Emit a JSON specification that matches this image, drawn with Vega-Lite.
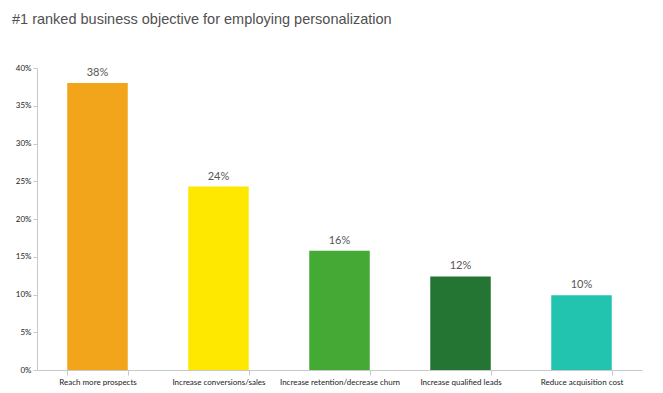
{
  "$schema": "https://vega.github.io/schema/vega-lite/v6.json",
  "autosize": {"type": "none"},
  "width": 605,
  "height": 302,
  "padding": {"left": 37, "top": 68, "right": 21, "bottom": 23},
  "background": "white",
  "title": {
    "text": "#1 ranked business objective for employing personalization",
    "anchor": "start",
    "frame": "group",
    "dx": -25,
    "offset": 37,
    "font": "Liberation Sans",
    "fontSize": 14.5,
    "fontWeight": "normal",
    "color": "#505050"
  },
  "data": {
    "values": [
      {"category": "Reach more prospects", "value": 0.38, "label": "38%"},
      {"category": "Increase conversions/sales", "value": 0.243, "label": "24%"},
      {"category": "Increase retention/decrease churn", "value": 0.158, "label": "16%"},
      {"category": "Increase qualified leads", "value": 0.124, "label": "12%"},
      {"category": "Reduce acquisition cost", "value": 0.099, "label": "10%"}
    ]
  },
  "config": {
    "view": {"stroke": null},
    "axis": {"grid": false, "domainColor": "#c8c8c8", "tickColor": "#c8c8c8", "labelFont": "Lato", "labelColor": "#222222"}
  },
  "encoding": {
    "x": {
      "field": "category", "type": "nominal", "sort": null,
      "scale": {"paddingInner": 0.5, "paddingOuter": 0.25},
      "axis": {"title": null, "labelAngle": 0, "labelFontSize": 8, "tickBand": "extent", "tickSize": 5, "labelPadding": 3}
    },
    "y": {
      "field": "value", "type": "quantitative",
      "scale": {"domain": [0, 0.4]},
      "axis": {"title": null, "format": ".0%", "values": [0,0.05,0.1,0.15,0.2,0.25,0.3,0.35,0.4], "labelOverlap": false, "labelFontSize": 8, "tickSize": 4, "labelPadding": 2}
    }
  },
  "layer": [
    {
      "mark": {"type": "bar"},
      "encoding": {
        "color": {
          "field": "category", "type": "nominal", "sort": null, "legend": null,
          "scale": {"range": ["#F2A41A", "#FFE800", "#44AA35", "#247533", "#22C4B0"]}
        }
      }
    },
    {
      "mark": {"type": "text", "dy": -10, "font": "Lato", "fontSize": 11, "color": "#555555"},
      "encoding": {"text": {"field": "label"}}
    }
  ]
}
